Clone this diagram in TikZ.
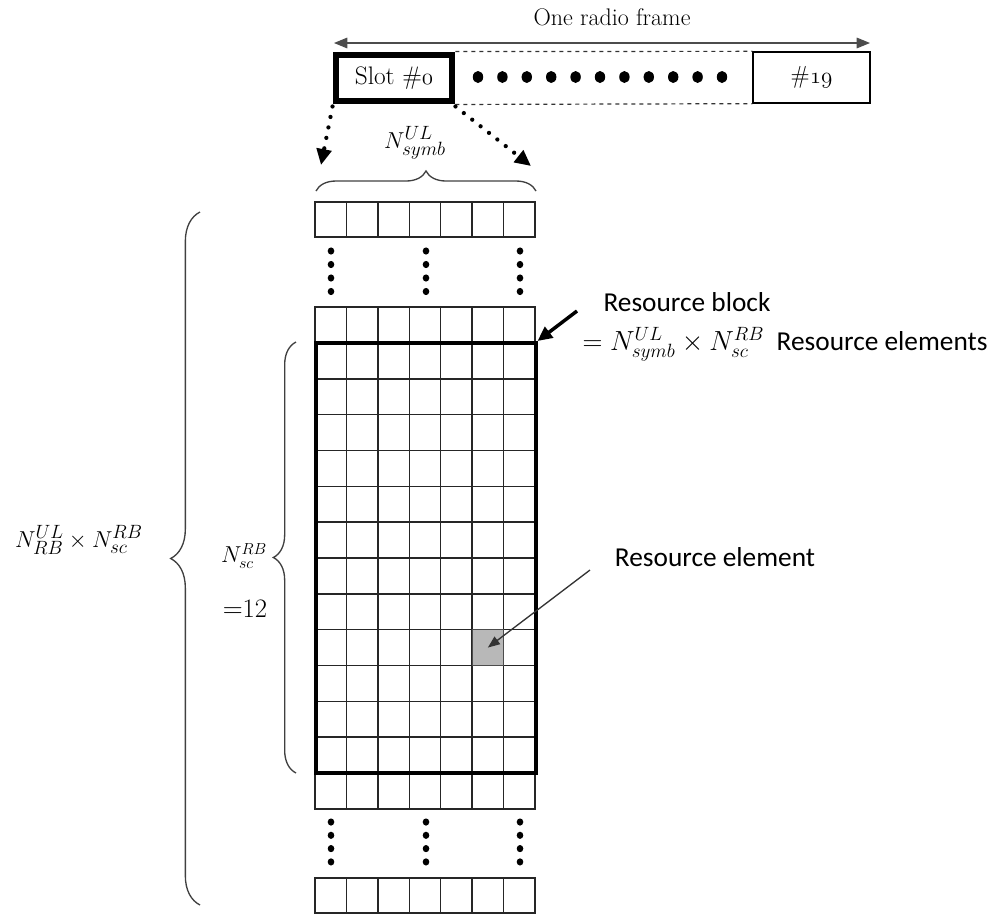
\documentclass[tikz,border=0pt]{standalone}
\usepackage{fontspec}
\newfontfamily\calib{Carlito}
\usetikzlibrary{arrows.meta,decorations.pathreplacing,calc}
\newcommand\osn[1]{$\mathgroup\symletters#1$}
\begin{document}
\begin{tikzpicture}[x=0.75pt,y=-0.75pt,
  gridline/.style={line width=1.1pt, draw=black!85},
  thickbox/.style={draw, line width=3pt, inner sep=0pt},
  plainbox/.style={draw, line width=1pt, inner sep=0pt},
  serifl/.style={font=\fontsize{19}{21}\selectfont},
  sansl/.style={font=\calib\fontsize{20.5}{23}\selectfont, inner sep=1pt},
  bracestyle/.style={draw=black!75, line width=1pt, decorate},
  dotarrow/.style={line width=3.2pt, line cap=round, dash pattern=on 0pt off 8pt, -{Triangle[length=12pt,width=11pt]}},
]
\useasboundingbox (0,0) rectangle (995,915);

% ---------- radio frame ----------
\node[thickbox, line width=5.2pt, minimum width=116*0.75pt, minimum height=46*0.75pt, serifl] (slot) at (394,78) {Slot \#\osn{0}};
\node[plainbox, minimum width=117*0.75pt, minimum height=51*0.75pt, font=\fontsize{18.5}{20}\selectfont] (r19) at (811.5,77.5) {\#\osn{19}};
\draw[dashed, line width=0.9pt, draw=black!80] (slot.north east) -- (r19.north west);
\draw[dashed, line width=0.9pt, draw=black!80] (slot.south east) -- (r19.south west);
\foreach \i in {0,...,10} {
  \fill (478+24.4*\i,77) ellipse (5.2 and 6);
}
\coordinate (fl) at (334,43);
\coordinate (fr) at (870,43);
\draw[line width=0.8pt, draw=black!70, {Triangle[length=10pt,width=8pt]}-{Triangle[length=10pt,width=8pt]}] (fl) -- (fr);
\node[font=\fontsize{18}{20}\selectfont] (frame) at (612,17) {One radio frame};

% ---------- dotted arrows ----------
\coordinate (la) at (321,165);
\coordinate (ra) at (531,166);
\draw[dotarrow] ($(slot.south west)+(0,2)$) -- (la);
\draw[dotarrow] ($(slot.south east)+(0,2)$) -- (ra);

% ---------- top brace ----------
\coordinate (tb1) at (316,191);
\coordinate (tb2) at (536,191);
\draw[bracestyle, decoration={brace, amplitude=15pt}] (tb1) -- (tb2);
\node[font=\fontsize{19}{21}\selectfont, inner sep=1pt] (nsymb) at (415,143) {$N^{UL}_{symb}$};

% ---------- grid ----------
\def\cw{31.43}
% top row
\foreach \c in {0,...,6} { \draw[gridline] (315+\c*\cw,202) rectangle ++(\cw,35); }
% second row
\foreach \c in {0,...,6} { \draw[gridline] (315+\c*\cw,307) rectangle ++(\cw,36); }
% resource block rows
\foreach \r in {0,...,11} {
  \foreach \c in {0,...,6} { \draw[gridline] (315+\c*\cw,343+\r*35.83) rectangle ++(\cw,35.83); }
}
% shaded resource element
\node[fill=black!28, draw=black!70, line width=0.8pt, minimum width=31.43*0.75pt, minimum height=35.83*0.75pt, inner sep=0pt] (re) at (315+5.5*\cw,343+8.5*35.83) {};
% row below
\foreach \c in {0,...,6} { \draw[gridline] (315+\c*\cw,773) rectangle ++(\cw,36); }
% bottom row
\foreach \c in {0,...,6} { \draw[gridline] (315+\c*\cw,878) rectangle ++(\cw,35); }
% resource block frame
\node[thickbox, minimum width=220*0.75pt, minimum height=430*0.75pt] (rb) at (425.5,558) {};

% vertical dots
\foreach \x in {331,426,520} {
  \foreach \k in {0,...,3} {
    \fill (\x,251+13.5*\k) ellipse (3.3 and 3.6);
    \fill (\x,822+13.3*\k) ellipse (3.3 and 3.6);
  }
}

% ---------- left braces ----------
\coordinate (bb1) at (200,905);
\coordinate (bb2) at (200,212);
\draw[bracestyle, decoration={brace, amplitude=22pt}] (bb1) -- (bb2);
\node[font=\fontsize{19}{21}\selectfont] (ntot) at (79,540) {$N^{UL}_{RB}\times N^{RB}_{sc}$};

\coordinate (sb1) at (296,773);
\coordinate (sb2) at (296,342);
\draw[bracestyle, decoration={brace, amplitude=17pt}] (sb1) -- (sb2);
\node[font=\fontsize{16.5}{18}\selectfont, inner sep=1pt] (nsc) at (244,556) {$N^{RB}_{sc}$};
\node[font=\fontsize{20}{22}\selectfont, inner sep=1pt] (twelve) at (245,609) {$=$12};

% ---------- labels on the right ----------
\node[sansl] (rblabel) at (687,302) {Resource block};
\node[sansl] (rbeq) at (785,344) {$=N^{UL}_{symb}\times N^{RB}_{sc}$\ \ Resource elements};
\coordinate (rbt) at (577,311);
\draw[line width=2.6pt, -{Triangle[length=11pt,width=10pt]}] (rbt) -- (rb.north east);
\node[sansl] (relabel) at (715,557) {Resource element};
\coordinate (ret) at (590,570);
\draw[line width=1pt, draw=black!80, -{Triangle[length=9pt,width=7pt]}] (ret) -- (re.center);
\end{tikzpicture}
\end{document}
